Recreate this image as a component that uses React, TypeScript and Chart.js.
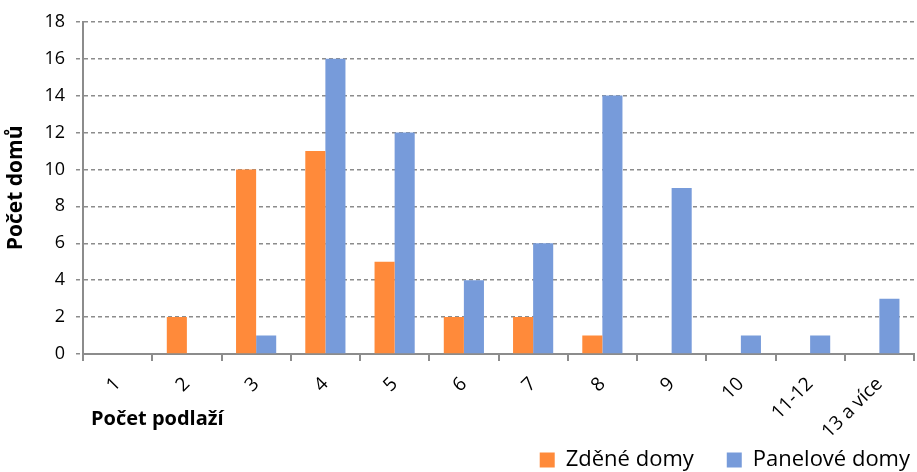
import React, { useEffect, useRef } from "react";
import { Chart, registerables } from "chart.js";

Chart.register(...registerables);

const categories = ["1", "2", "3", "4", "5", "6", "7", "8", "9", "10", "11-12", "13 a více"];
const zdeneDomy = [0, 2, 10, 11, 5, 2, 2, 1, 0, 0, 0, 0];
const paneloveDomy = [0, 0, 1, 16, 12, 4, 6, 14, 9, 1, 1, 3];
const seriesNames = ["Zděné domy", "Panelové domy"];

const FONT = "'Open Sans', sans-serif";
const AXIS_GREY = "#8c8c8c";
const LEGEND_ROW_TOP = 449;

// x axis title sits left, next to the rotated labels (like Excel does it)
const xTitlePlugin = {
    id: "xTitle",
    afterDraw(chart: any) {
        const { ctx, chartArea } = chart;
        ctx.save();
        ctx.font = `bold 20px ${FONT}`;
        ctx.fillStyle = "#000";
        ctx.textAlign = "left";
        ctx.textBaseline = "middle";
        ctx.fillText("Počet podlaží", chartArea.left + 8, chartArea.bottom + 65);
        ctx.restore();
    },
};

// legend needs wide gaps between items but only one short row at the very bottom
const legendPlacePlugin = {
    id: "legendPlace",
    afterLayout(chart: any) {
        const l = chart.legend;
        if (!l) return;
        const pad = l.options.labels.padding;
        const dy = LEGEND_ROW_TOP - pad - l.top;
        l.top += dy;
        l.bottom += dy;
        const dx = pad - 4;
        l.left += dx;
        l.right += dx;
    },
};

const App: React.FC = () => {
    const chartRef = useRef<HTMLCanvasElement | null>(null);
    const chartInstance = useRef<Chart | null>(null);

    useEffect(() => {
        if (chartRef.current) {
            const ctx = chartRef.current.getContext("2d");
            if (ctx) {
                if (chartInstance.current) {
                    chartInstance.current.destroy();
                }
                chartInstance.current = new Chart(ctx, {
                    type: "bar",
                    data: {
                        labels: categories,
                        datasets: [
                            {
                                label: seriesNames[0],
                                data: zdeneDomy,
                                backgroundColor: "#ff8a3a",
                                borderWidth: 0,
                                categoryPercentage: 0.58,
                                barPercentage: 1.0,
                            },
                            {
                                label: seriesNames[1],
                                data: paneloveDomy,
                                backgroundColor: "#779bda",
                                borderWidth: 0,
                                categoryPercentage: 0.58,
                                barPercentage: 1.0,
                            },
                        ],
                    },
                    options: {
                        animation: false,
                        responsive: true,
                        maintainAspectRatio: false,
                        layout: { padding: { top: 14, right: 3, left: 0, bottom: -42 } },
                        plugins: {
                            tooltip: { enabled: false },
                            legend: {
                                position: "bottom",
                                align: "end",
                                labels: {
                                    boxWidth: 15,
                                    boxHeight: 15,
                                    padding: 33,
                                    color: "#000",
                                    font: { family: FONT, size: 22 },
                                },
                            },
                        },
                        scales: {
                            x: {
                                grid: {
                                    offset: true,
                                    drawOnChartArea: false,
                                    drawTicks: true,
                                    tickLength: 7,
                                    color: AXIS_GREY,
                                    lineWidth: 2,
                                },
                                border: { color: AXIS_GREY, width: 2 },
                                ticks: {
                                    minRotation: 45,
                                    maxRotation: 45,
                                    padding: 12,
                                    color: "#000",
                                    font: { family: FONT, size: 19 },
                                },
                                afterFit: (scale: any) => {
                                    scale.height = 95;
                                },
                            },
                            y: {
                                min: 0,
                                max: 18,
                                ticks: {
                                    stepSize: 2,
                                    padding: 11,
                                    color: "#000",
                                    font: { family: FONT, size: 18 },
                                },
                                grid: {
                                    color: AXIS_GREY,
                                    lineWidth: 1.5,
                                    tickLength: 7,
                                    tickBorderDash: [4, 3],
                                    tickColor: AXIS_GREY,
                                },
                                border: { color: AXIS_GREY, width: 2, dash: [4, 3] },
                                title: {
                                    display: true,
                                    text: "Počet domů",
                                    color: "#000",
                                    padding: { top: 3, bottom: 0 },
                                    font: { family: FONT, size: 21, weight: "bold" },
                                },
                                afterFit: (scale: any) => {
                                    scale.width = 83;
                                },
                            },
                        },
                    } as any,
                    plugins: [xTitlePlugin, legendPlacePlugin],
                });
            }
        }
        return () => {
            if (chartInstance.current) {
                chartInstance.current.destroy();
                chartInstance.current = null;
            }
        };
    }, []);

    return (
        <div style={{ position: "fixed", left: 0, top: 0, width: 917, height: 472 }}>
            <canvas ref={chartRef} />
        </div>
    );
};

export default App;
